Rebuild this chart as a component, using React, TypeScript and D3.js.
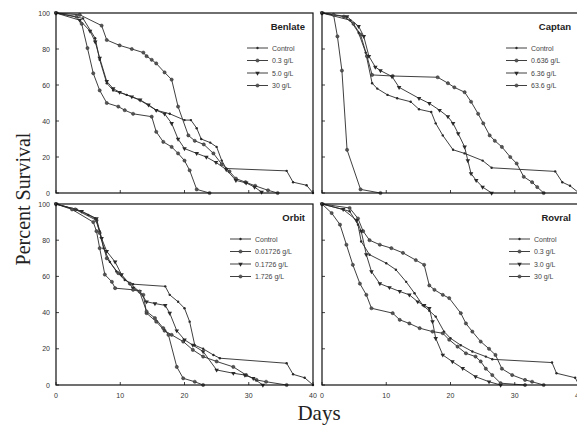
import React from "react";
import * as d3 from "d3";

type Pt = [number, number];

// ---------- data (days, percent survival) ----------
const benlateLabels = ["Control", "0.3 g/L", "5.0 g/L", "30 g/L"];
const benlateControl: Pt[] = [[0,100],[4.2,97],[6.1,86],[6.8,74],[7.9,61],[8.9,57],[11,54.5],[13,51.7],[15.6,46],[17.7,44],[20,40.5],[21,40.5],[21.9,36],[22.6,30],[24,28],[25,25.6],[25.8,18],[26.5,13.6],[35.9,12.3],[36.9,6],[39,4.3],[40,0]];
const benlate03: Pt[] = [[0,100],[3.7,99],[7.1,93],[7.9,85],[9.9,82],[11.8,80],[13.6,78],[14.1,76],[14.9,74],[15.6,72],[16.9,67],[18,63],[19,48],[20.6,32],[21.6,29],[23,27],[24.5,22],[25.8,16],[27,12],[28,8],[29.5,6],[31,4],[33,1.5],[34.5,0]];
const benlate50: Pt[] = [[0,100],[3.7,96],[5.3,90],[6.1,84],[6.8,75],[7.9,62],[8.9,58],[9.9,56],[11.8,53.5],[13.1,51.7],[14.4,49],[15.6,46],[16.9,44],[18,38.7],[19,30],[20,24.7],[21.9,22],[23.4,20],[24.9,17],[26.5,13],[28,7],[29.6,5.6],[30.9,3.3],[32,0.5]];
const benlate30: Pt[] = [[0,100],[3.2,98],[4,94],[4.9,80.5],[5.8,66.5],[6.8,57],[7.9,50],[9.7,48],[10.7,46],[12,44],[14.9,42.4],[15.6,34],[16.7,28.4],[18,25.6],[19,22],[20,18],[20.8,12.6],[21.9,2],[23.9,0]];

const captanLabels = ["Control", "0.636 g/L", "6.36 g/L", "63.6 g/L"];
const captanControl: Pt[] = [[0,100],[4.4,96],[5.7,89],[6.8,78],[7.8,61],[8.6,58],[10.2,54.5],[11.7,52.6],[13.8,50.7],[15.1,46.5],[17,45],[17.7,38.7],[18.8,32],[20.4,24],[22.2,22],[25,18],[26.4,14],[36.3,12],[37.4,6],[38.6,4],[40,0]];
const captan0636: Pt[] = [[0,100],[3.4,98],[4.9,94],[6,88],[7,76],[7.8,65.6],[11,65],[18,64.3],[19.6,61],[20.6,58.7],[22.2,56],[23.2,50.7],[24.3,44],[25.1,38.7],[26.1,32],[26.9,29],[28,25.6],[29.3,20],[30.3,16.4],[31.4,9],[32.7,6],[33.5,3.3],[34.5,0]];
const captan636: Pt[] = [[0,100],[3.9,98],[5.7,92.6],[6.5,87],[7.3,76],[8.3,70],[9.1,68],[10.9,64.7],[12,58.7],[15.1,52.6],[16.7,49.8],[18.3,46],[19.6,42.4],[20.4,38.7],[21.2,33],[22.2,25.6],[22.7,18],[23.2,10.8],[24,7],[25,3.3],[26.4,0]];
const captan636b: Pt[] = [[0,100],[1.8,99],[2.4,87],[3.1,68],[3.9,24],[6,2],[9.1,0]];

const orbitLabels = ["Control", "0.01726 g/L", "0.1726 g/L", "1.726 g/L"];
const orbitControl: Pt[] = [[0,100],[3.2,97],[5,94],[6.1,92],[6.8,85],[7.4,75.6],[8.4,68],[9.4,62.7],[10.7,58],[12,55.7],[17,54.5],[17.7,49.8],[19,46],[20,42.4],[20.8,35],[21.6,22],[22.9,20],[24.5,16.6],[25.5,14.8],[35.9,12],[36.9,5.9],[38.7,4],[40,0]];
const orbit001: Pt[] = [[0,100],[3,97],[6.3,91],[6.8,84],[7.9,70],[9.7,61.8],[11.5,56],[13.6,49.8],[14.1,39.7],[15.6,35],[16.9,30],[18,27.7],[19.8,24],[21.3,19.4],[22.9,15.7],[25,13],[27.6,10],[29.6,5.5],[31.2,2.8],[32.7,1.8],[35.9,0]];
const orbit01: Pt[] = [[0,100],[4,96],[6.3,92],[7.1,81],[7.9,73.8],[9.2,68],[10.2,61],[12,53.5],[13,51.7],[14.1,46],[15.4,45],[17,44],[17.7,39.7],[18.8,30],[20,25],[21.3,22],[22.9,18.5],[25,8.3],[27.6,6.5],[29.4,5.5],[30.7,3.7],[32.2,0]];
const orbit1: Pt[] = [[0,100],[2.5,97],[5.8,90],[6.3,85],[6.8,75.6],[7.6,61],[8.7,57],[9.2,53.5],[12,52.6],[13,51.7],[14.1,40.6],[15.4,37],[16.7,31.4],[17.5,27.7],[18.8,10],[19.8,3.7],[21.6,1.8],[22.9,0]];

const rovralLabels = ["Control", "0.3 g/L", "3.0 g/L", "30 g/L"];
const rovralControl: Pt[] = [[0,100],[4.3,96],[5.6,88.6],[6.1,79.3],[7.4,72],[10,67.3],[11.5,63.7],[13.1,57],[14.4,50.7],[15.7,44],[16.7,41],[17.7,37.8],[19,29.5],[20,25.8],[21.6,22],[23.4,18.5],[25.5,15.7],[26.5,14.2],[35.8,12.4],[36.5,6.5],[39.4,4],[40,0]];
const rovral03: Pt[] = [[0,100],[4.3,97.8],[5.6,92],[6.4,85],[7.4,80],[9,77.5],[10.8,75.6],[12.6,73],[14.6,69],[15.9,66.4],[16.7,55],[17.5,52.6],[18.8,49.8],[19.8,48],[21.6,39.7],[22.4,34],[23.4,29.5],[24.7,24],[26,20],[27,16.6],[28,9],[29.6,5.5],[31.6,2.8],[32.7,1.8],[34.5,0]];
const rovral30: Pt[] = [[0,100],[3.3,97],[5.4,91],[6.1,85],[6.9,72],[7.7,62.7],[9,56],[10.5,53.9],[12.1,51.7],[13.6,49.8],[14.9,46],[15.9,44],[16.7,42.4],[17.2,35],[17.7,25.8],[18.8,16.6],[20.3,12.9],[21.9,9.2],[23.9,4.6],[26,1.8],[27.8,0]];
const rovral300: Pt[] = [[0,100],[1.5,95],[2.8,88.6],[3.8,77.5],[4.8,66.4],[5.9,56],[6.9,49.8],[7.7,42.4],[11,39.7],[12.1,36],[13.6,34],[15.2,31.4],[17.2,29.5],[18.8,28.6],[19.8,25],[21.1,21.2],[22.4,17.5],[23.9,15.7],[24.7,13],[25.5,9],[26.5,5.5],[27.8,1],[31.6,0]];

const xTicks = [0, 10, 20, 30, 40];
const yTicks = [0, 20, 40, 60, 80, 100];

// ---------- layout ----------
interface Panel {
  title: string;
  left: number; right: number; top: number; bottom: number;
  series: Pt[][];
  labels: string[];
  legX: number; legY: number;
  yLabels: boolean; xLabels: boolean;
}

const panels: Panel[] = [
  { title: "Benlate", left: 56, right: 313, top: 13, bottom: 193, series: [benlateControl, benlate03, benlate50, benlate30], labels: benlateLabels, legX: 247, legY: 48, yLabels: true, xLabels: false },
  { title: "Captan", left: 322, right: 579, top: 13, bottom: 193, series: [captanControl, captan0636, captan636, captan636b], labels: captanLabels, legX: 506, legY: 48, yLabels: false, xLabels: false },
  { title: "Orbit", left: 56, right: 313, top: 204, bottom: 385, series: [orbitControl, orbit001, orbit01, orbit1], labels: orbitLabels, legX: 230, legY: 239, yLabels: true, xLabels: true },
  { title: "Rovral", left: 322, right: 579, top: 204, bottom: 385, series: [rovralControl, rovral03, rovral30, rovral300], labels: rovralLabels, legX: 509, legY: 239, yLabels: false, xLabels: true },
];

const INK = "#2a2a2a";
const FONT = "Liberation Sans, Arial, sans-serif";

function Marker({ x, y, kind }: { x: number; y: number; kind: number }) {
  if (kind === 2) {
    const p = d3.symbol().type(d3.symbolTriangle).size(9)();
    return <path d={p || ""} transform={`translate(${x},${y}) rotate(180)`} fill={INK} />;
  }
  if (kind === 1 || kind === 3) {
    return <circle cx={x} cy={y} r={1.6} fill="#555" stroke={INK} strokeWidth={0.5} />;
  }
  return <circle cx={x} cy={y} r={1.2} fill={INK} />;
}

function PanelView({ p }: { p: Panel }) {
  const x = d3.scaleLinear().domain([0, 40]).range([p.left, p.right]);
  const y = d3.scaleLinear().domain([0, 100]).range([p.bottom, p.top]);
  const line = d3.line<Pt>().x((d) => x(d[0])).y((d) => y(d[1]));
  return (
    <g>
      {p.series.map((s, i) => (
        <g key={i}>
          <path d={line(s) || ""} fill="none" stroke={INK} strokeWidth={0.9} />
          {s.map((d, j) => (
            <Marker key={j} x={x(d[0])} y={y(d[1])} kind={i} />
          ))}
        </g>
      ))}
      <rect x={p.left} y={p.top} width={p.right - p.left} height={p.bottom - p.top} fill="none" stroke="#111" strokeWidth={1.2} />
      {xTicks.map((t) => (
        <line key={"xt" + t} x1={x(t)} x2={x(t)} y1={p.bottom} y2={p.bottom - 3} stroke="#111" strokeWidth={0.8} />
      ))}
      {yTicks.map((t) => (
        <line key={"yt" + t} x1={p.left} x2={p.left + 3} y1={y(t)} y2={y(t)} stroke="#111" strokeWidth={0.8} />
      ))}
      {p.yLabels &&
        yTicks.map((t) => (
          <text key={"yl" + t} x={p.left - 6} y={y(t) + 2.5} textAnchor="end" fontSize={7} fontFamily={FONT} fill="#333">
            {t}
          </text>
        ))}
      {p.xLabels &&
        xTicks.map((t) => (
          <text key={"xl" + t} x={x(t)} y={p.bottom + 13} textAnchor="middle" fontSize={7} fontFamily={FONT} fill="#333">
            {t}
          </text>
        ))}
      <text x={p.right - 8} y={p.top + 17} textAnchor="end" fontSize={9.5} fontWeight="bold" fontFamily={FONT} fill="#222">
        {p.title}
      </text>
      {p.labels.map((lab, i) => {
        const ly = p.legY + i * 12.5;
        return (
          <g key={"lg" + i}>
            <line x1={p.legX} x2={p.legX + 21} y1={ly} y2={ly} stroke={INK} strokeWidth={0.9} />
            <Marker x={p.legX + 10.5} y={ly} kind={i} />
            <text x={p.legX + 25} y={ly + 2.5} fontSize={7} fontFamily={FONT} fill="#444">
              {lab}
            </text>
          </g>
        );
      })}
    </g>
  );
}

export default function App() {
  return (
    <svg width={577} height={426} style={{ position: "absolute", left: 0, top: 0, background: "#fff" }}>
      <rect x={0} y={0} width={577} height={426} fill="#fff" />
      {panels.map((p) => (
        <PanelView key={p.title} p={p} />
      ))}
      <text transform="translate(30,199) rotate(-90)" textAnchor="middle" fontSize={20} fontFamily="Liberation Serif, Times New Roman, serif" fill="#222">
        Percent Survival
      </text>
      <text x={319} y={420} textAnchor="middle" fontSize={21} fontFamily="Liberation Serif, Times New Roman, serif" fill="#222">
        Days
      </text>
    </svg>
  );
}
